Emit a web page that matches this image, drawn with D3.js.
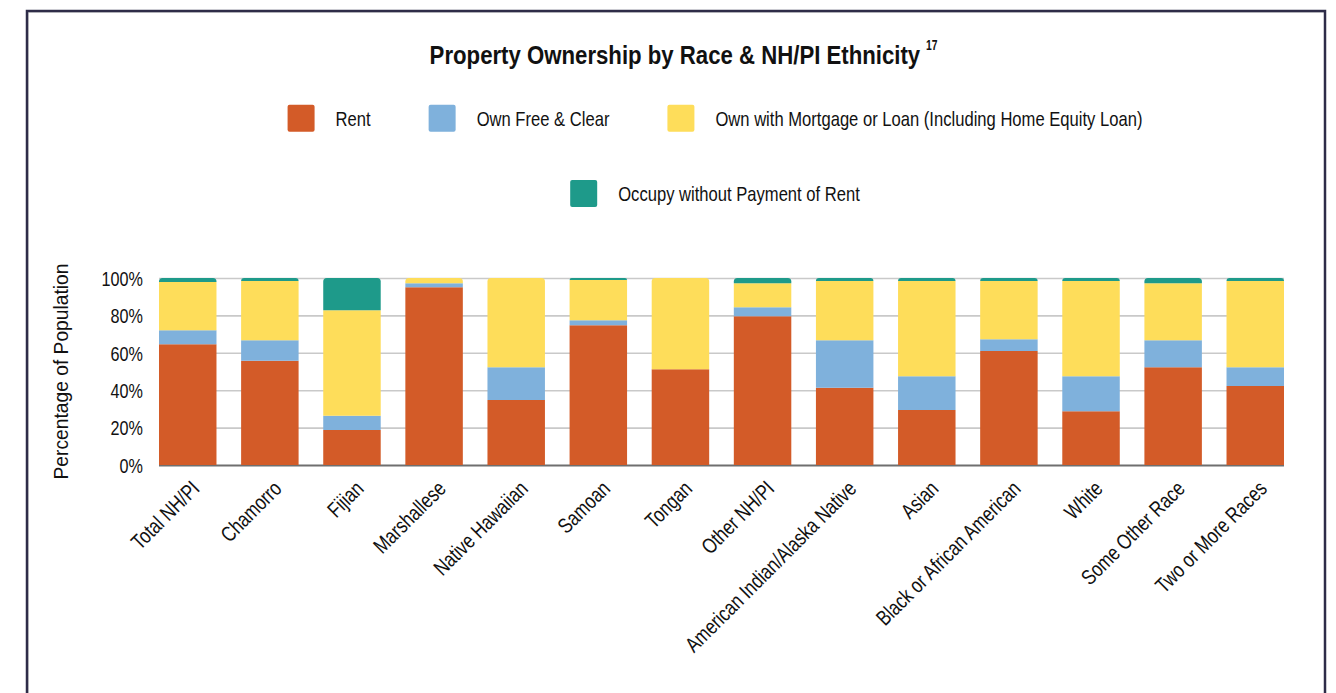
<!DOCTYPE html>
<html><head><meta charset="utf-8">
<script src="https://cdn.jsdelivr.net/npm/d3@7"></script>
<style>body{margin:0;background:#fff}svg{display:block}</style>
</head><body><svg id="c" width="1336" height="693"></svg>
<script>
const categories = ["Total NH/PI","Chamorro","Fijian","Marshallese","Native Hawaiian","Samoan","Tongan","Other NH/PI","American Indian/Alaska Native","Asian","Black or African American","White","Some Other Race","Two or More Races"];
const rent      = [64.6, 55.7, 18.7, 95.0, 34.7, 74.7, 51.2, 79.5, 41.3, 29.4, 60.9, 28.8, 52.3, 42.2];
const ownFree   = [ 7.5, 11.0,  7.6,  2.2, 17.6,  2.7,  0.0,  4.8, 25.4, 18.1,  6.4, 18.7, 14.4, 10.1];
const mortgage  = [25.8, 31.7, 56.4,  2.8, 47.7, 21.5, 48.8, 12.9, 31.7, 50.9, 31.1, 50.9, 30.5, 46.1];
const occupy    = [ 2.1,  1.6, 17.3,  0.0,  0.0,  1.1,  0.0,  2.8,  1.6,  1.6,  1.6,  1.6,  2.8,  1.6];
const seriesNames = ["Rent","Own Free & Clear","Own with Mortgage or Loan (Including Home Equity Loan)","Occupy without Payment of Rent"];
const seriesColors = ["#D35B28","#7FB1DC","#FEDD5A","#1E9A8A"];
const yTicks = [0,20,40,60,80,100];
const titleText = "Property Ownership by Race & NH/PI Ethnicity";
const titleNote = "17";
const yTitle = "Percentage of Population";

const FONT = "'Liberation Sans Narrow','Arial Narrow','Liberation Sans',Arial,sans-serif";
const svg = d3.select("#c");

// frame
svg.append("rect").attr("x",28.5).attr("y",12.5).attr("width",1296).attr("height",720)
  .attr("fill","none").attr("stroke","#dcdcdc").attr("stroke-width",1);
svg.append("rect").attr("x",27).attr("y",11).attr("width",1298).attr("height",720)
  .attr("fill","none").attr("stroke","#2e2c48").attr("stroke-width",2.5);

// condensing ratio measured from the legend text
const probe = svg.append("text").attr("font-family",FONT).attr("font-size",21).text(seriesNames[2]);
const ratio = 427 / probe.node().getComputedTextLength();
probe.remove();
function condense(sel, r){
  sel.each(function(){
    const w = this.getComputedTextLength();
    d3.select(this).attr("textLength", w*(r||ratio)).attr("lengthAdjust","spacingAndGlyphs");
  });
}

// title: condensed through a horizontal scale on its group
const tg = svg.append("g");
const tt = tg.append("text").attr("x",0).attr("y",64.4).attr("font-family",FONT)
  .attr("font-weight","bold").attr("font-size",26).attr("fill","#111").text(titleText);
const tsx = 491 / tt.node().getComputedTextLength();
tg.attr("transform",`translate(429.6,0) scale(${tsx},1)`);
const ng = svg.append("g");
const nt = ng.append("text").attr("x",0).attr("y",50).attr("font-family",FONT)
  .attr("font-weight","bold").attr("font-size",14).attr("fill","#111").text(titleNote);
const nsx = 11.5 / nt.node().getComputedTextLength();
ng.attr("transform",`translate(926,0) scale(${nsx},1)`);

// scales
const x = d3.scaleBand().domain(categories).range([159,1284]).paddingInner(0.3).paddingOuter(0);
const y = d3.scaleLinear().domain([0,100]).range([465,278]);

// grid + y axis
const ga = svg.append("g").attr("transform","translate(159,0)")
  .call(d3.axisLeft(y).tickValues(yTicks).tickSize(-(1284-159)).tickFormat(d=>d+"%"));
ga.select(".domain").remove();
ga.selectAll(".tick line").attr("stroke",d=>d===0?"#6f6f6f":"#c9c9c9").attr("stroke-width",d=>d===0?2:1.6);
ga.selectAll(".tick text").attr("x",-16).attr("dy","0.36em").attr("font-family",FONT)
  .attr("font-size",20.5).attr("fill","#111").call(condense);

// y title
svg.append("text").attr("transform","translate(68,371.5) rotate(-90)").attr("text-anchor","middle")
  .attr("font-family",FONT).attr("font-size",21).attr("fill","#111").text(yTitle)
  .attr("textLength",216).attr("lengthAdjust","spacingAndGlyphs");

// stacked data
const keys = ["rent","ownFree","mortgage","occupy"];
const rows = categories.map((c,i)=>({cat:c, rent:rent[i], ownFree:ownFree[i], mortgage:mortgage[i], occupy:occupy[i]}));
const stack = d3.stack().keys(keys)(rows);
const topIdx = rows.map(r=>{ let k=0; keys.forEach((key,j)=>{ if(r[key]>0) k=j; }); return k; });

function topRounded(x0,y0,w,h,r){
  r = Math.min(r,h,w/2);
  return `M${x0},${y0+h}V${y0+r}Q${x0},${y0} ${x0+r},${y0}H${x0+w-r}Q${x0+w},${y0} ${x0+w},${y0+r}V${y0+h}Z`;
}
const bars = svg.append("g");
stack.forEach((layer,j)=>{
  bars.selectAll(null).data(layer.filter(d=>d[1]-d[0]>0)).enter().append("path")
    .attr("fill",seriesColors[j])
    .attr("d",d=>{
      const i = categories.indexOf(d.data.cat);
      const x0 = x(d.data.cat), w = x.bandwidth();
      const y0 = y(d[1]), h = y(d[0]) - y(d[1]);
      return topIdx[i]===j ? topRounded(x0,y0,w,h,3.5) : `M${x0},${y0}h${w}v${h}h${-w}Z`;
    });
});

// x axis labels
const gx = svg.append("g").attr("transform","translate(0,465)")
  .call(d3.axisBottom(x).tickSize(0));
gx.select(".domain").remove();
gx.selectAll(".tick text").attr("x",null).attr("y",null).attr("dy",null)
  .attr("transform","translate(13,25) rotate(-45)").attr("text-anchor","end")
  .attr("font-family",FONT).attr("font-size",21.5).attr("fill","#111").call(condense);

// legend
const legendRows = [[0,1,2],[3]];
const rowCenters = [118.3, 193.5];
const lg = svg.append("g");
legendRows.forEach((items,ri)=>{
  const cy = rowCenters[ri];
  const gs = items.map(k=>{
    const g = lg.append("g");
    g.append("rect").attr("width",27).attr("height",27).attr("rx",2).attr("y",cy-13.5).attr("fill",seriesColors[k]);
    const tx = g.append("text").attr("x",48).attr("y",cy+7.6).attr("font-family",FONT)
      .attr("font-size",21).attr("fill","#111").text(seriesNames[k]).call(condense);
    return {g, w:48+tx.node().getComputedTextLength()};
  });
  const total = d3.sum(gs,d=>d.w) + 58*(gs.length-1);
  let cx = 715 - total/2;
  gs.forEach(o=>{ o.g.attr("transform",`translate(${cx},0)`); cx += o.w + 58; });
});
</script></body></html>
